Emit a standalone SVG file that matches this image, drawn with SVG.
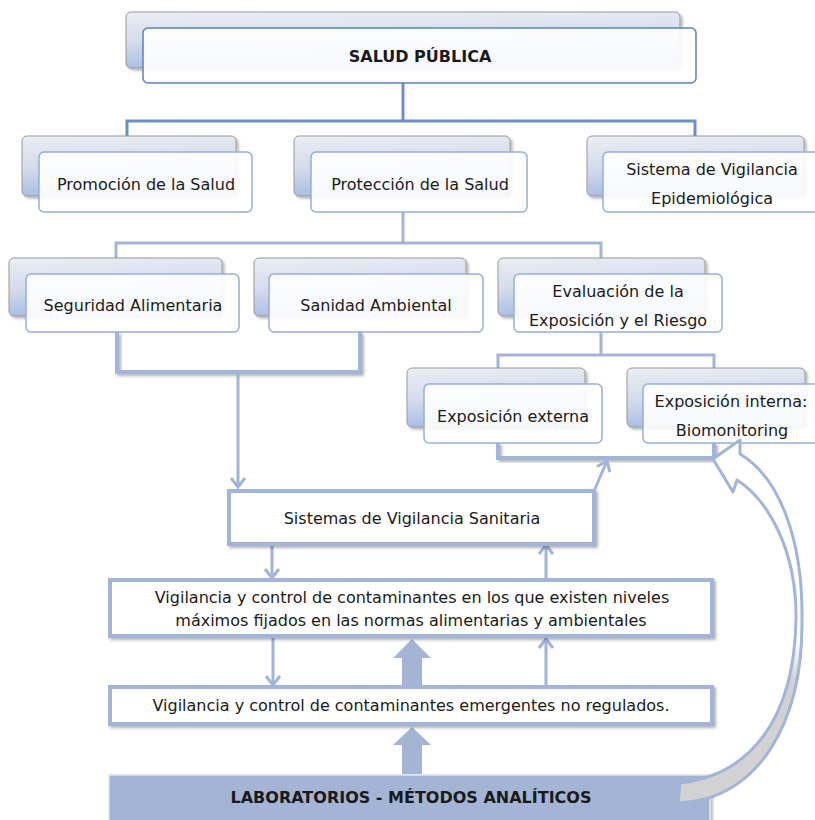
<svg xmlns="http://www.w3.org/2000/svg" width="815" height="820" viewBox="0 0 815 820">
<style>
  text { font-family: "DejaVu Sans", Verdana, sans-serif; font-size: 16px; fill: #1a1a1a; text-anchor: middle; }
  .b { font-weight: bold; }
  .back { fill: url(#gBack); stroke: #9a9a9a; stroke-width: 1; filter: url(#sh); }
  .front { fill: #ffffff; fill-opacity: 0.9; stroke: #94aedb; stroke-width: 1.5; }
  .front1 { fill: #ffffff; fill-opacity: 0.9; stroke: #5a83c1; stroke-width: 1.5; }
  .l1 { fill: none; stroke: #6e8fc6; stroke-width: 3; }
  .l2 { fill: none; stroke: #a2b5d9; stroke-width: 3; }
  .br { fill: none; stroke: #a2b5d9; stroke-width: 4; filter: url(#sh); }
  .ar { fill: none; stroke: #a2b5d9; stroke-width: 3; marker-end: url(#chev); }
  .box { fill: #ffffff; stroke: #a2b5d9; stroke-width: 4; filter: url(#sh); }
  .blk { fill: #a3b4d4; }
</style>
<defs>
  <linearGradient id="gBack" x1="0" y1="0" x2="0.15" y2="1">
    <stop offset="0" stop-color="#eceef3"/>
    <stop offset="0.55" stop-color="#d3daea"/>
    <stop offset="1" stop-color="#a9bde4"/>
  </linearGradient>
  <linearGradient id="gCurve" gradientUnits="userSpaceOnUse" x1="0" y1="640" x2="0" y2="680">
    <stop offset="0" stop-color="#ffffff"/>
    <stop offset="1" stop-color="#d2d2d2"/>
  </linearGradient>
  <filter id="sh" x="-10%" y="-20%" width="130%" height="150%">
    <feDropShadow dx="2" dy="2" stdDeviation="1.8" flood-color="#000000" flood-opacity="0.3"/>
  </filter>
  <marker id="chev" viewBox="0 0 12 16" refX="10" refY="8" markerWidth="12" markerHeight="16" markerUnits="userSpaceOnUse" orient="auto">
    <path d="M1,1 L10,8 L1,15" fill="none" stroke="#a2b5d9" stroke-width="3"/>
  </marker>
</defs>

<g id="connectors">
  <path class="l1" d="M403,83 V121 M127,136 V121 H695 V136"/>
  <path class="l2" d="M403,212 V243 M116,259 V243 H601 V259"/>
  <path class="l2" d="M601,332 V355 M498,369 V355 H714 V369"/>
  <path class="br" d="M117,332 V372 H360 V332"/>
  <path class="br" d="M498,443 V458 H714 V443"/>
  <path class="ar" d="M238,372 V487"/>
  <path class="ar" d="M594,491 L607,461"/>
  <path class="ar" d="M272,544 V578"/>
  <path class="ar" d="M546,579 V545"/>
  <path class="ar" d="M273,637 V685"/>
  <path class="ar" d="M546,686 V639"/>
  <polygon class="blk" points="402,686 402,658 393,658 412,639 431,658 422,658 422,686"/>
  <polygon class="blk" points="402,774 402,745 393,745 412,727 431,745 422,745 422,774"/>
</g>

<g id="n-salud">
  <rect class="back" x="126" y="12" width="554" height="56" rx="5"/>
  <rect class="front1" x="143" y="28" width="553" height="55" rx="5"/>
  <text class="b" x="420" y="62">SALUD PÚBLICA</text>
</g>
<g id="n-promocion">
  <rect class="back" x="22" y="136" width="214" height="60" rx="5"/>
  <rect class="front" x="39" y="152" width="213" height="60" rx="5"/>
  <text x="146" y="190">Promoción de la Salud</text>
</g>
<g id="n-proteccion">
  <rect class="back" x="294" y="136" width="216" height="60" rx="5"/>
  <rect class="front" x="311" y="152" width="216" height="60" rx="5"/>
  <text x="420" y="190">Protección de la Salud</text>
</g>
<g id="n-sve">
  <rect class="back" x="587" y="136" width="217" height="60" rx="5"/>
  <rect class="front" x="603" y="152" width="218" height="60" rx="5"/>
  <text x="712" y="175">Sistema de Vigilancia</text>
  <text x="712" y="204">Epidemiológica</text>
</g>
<g id="n-seguridad">
  <rect class="back" x="9" y="258" width="213" height="58" rx="5"/>
  <rect class="front" x="26" y="274" width="213" height="58" rx="5"/>
  <text x="133" y="311">Seguridad Alimentaria</text>
</g>
<g id="n-sanidad">
  <rect class="back" x="254" y="258" width="212" height="58" rx="5"/>
  <rect class="front" x="269" y="274" width="214" height="58" rx="5"/>
  <text x="376" y="311">Sanidad Ambiental</text>
</g>
<g id="n-evaluacion">
  <rect class="back" x="498" y="258" width="207" height="58" rx="5"/>
  <rect class="front" x="514" y="274" width="208" height="58" rx="5"/>
  <text x="618" y="297">Evaluación de la</text>
  <text x="618" y="326">Exposición y el Riesgo</text>
</g>
<g id="n-expext">
  <rect class="back" x="407" y="368" width="178" height="59" rx="5"/>
  <rect class="front" x="424" y="384" width="178" height="59" rx="5"/>
  <text x="513" y="422">Exposición externa</text>
</g>
<g id="n-expint">
  <rect class="back" x="627" y="368" width="178" height="59" rx="5"/>
  <rect class="front" x="643" y="384" width="180" height="59" rx="5"/>
  <text x="731" y="407">Exposición interna:</text>
  <text x="732" y="436">Biomonitoring</text>
</g>

<g id="n-svs">
  <rect class="box" x="229" y="491" width="365" height="53"/>
  <text x="412" y="524">Sistemas de Vigilancia Sanitaria</text>
</g>
<g id="n-vig1">
  <rect class="box" x="110" y="580" width="602" height="56"/>
  <text x="412" y="603">Vigilancia y control de contaminantes en los que existen niveles</text>
  <text x="411" y="626">máximos fijados en las normas alimentarias y ambientales</text>
</g>
<g id="n-vig2">
  <rect class="box" x="110" y="687" width="602" height="37"/>
  <text x="411" y="711">Vigilancia y control de contaminantes emergentes no regulados.</text>
</g>
<g id="n-lab">
  <rect x="109" y="775" width="601" height="47" fill="#a3b4d4" stroke="#e4e4e4" stroke-width="1.5" filter="url(#sh)"/>
  <text class="b" x="411" y="803">LABORATORIOS - MÉTODOS ANALÍTICOS</text>
</g>

<g id="curved-arrow">
  <path d="M740,454 L740,440 L713,459 L733,492 L737,480 C768,500 797,550 796,620 C794,720 750,775 680,783 L678,803 C760,800 803,720 802,620 C803,540 780,478 740,454 Z" fill="url(#gCurve)" stroke="#a2b5d9" stroke-width="3" stroke-linejoin="round"/>
</g>
</svg>
